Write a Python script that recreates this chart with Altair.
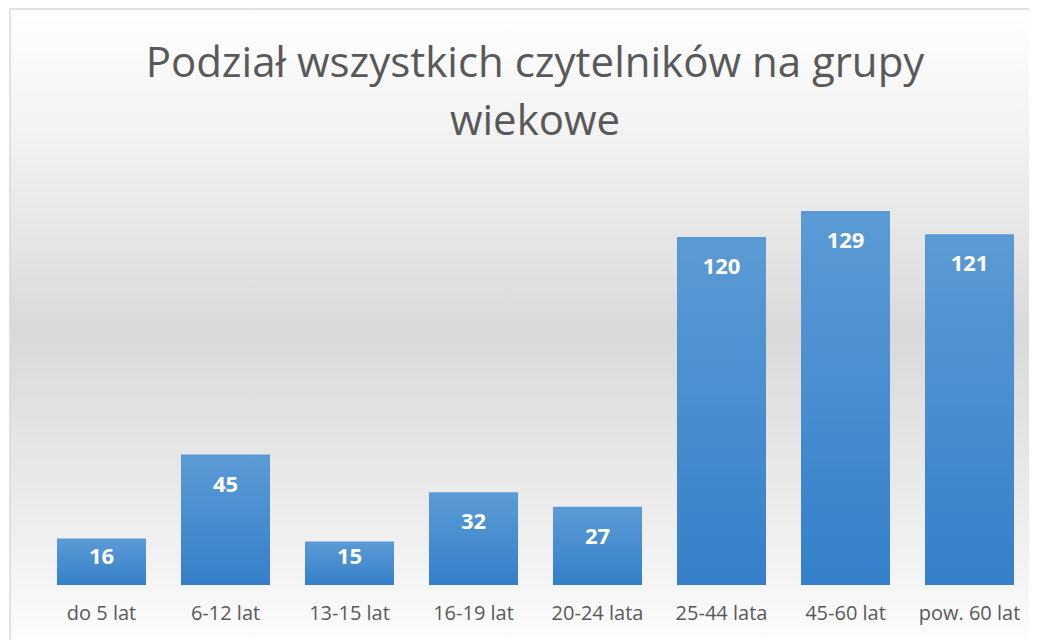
import altair as alt
import pandas as pd

categories = ["do 5 lat", "6-12 lat", "13-15 lat", "16-19 lat", "20-24 lata", "25-44 lata", "45-60 lat", "pow. 60 lat"]
values = [16, 45, 15, 32, 27, 120, 129, 121]
title_lines = "Podział wszystkich czytelników na grupy\nwiekowe"

df = pd.DataFrame({"cat": categories, "val": values})

W, H = 1021, 577

bg = alt.Chart(pd.DataFrame({"a": [0]})).mark_rect(
    fill=alt.Gradient(
        gradient="linear", x1=0, x2=0, y1=0, y2=1,
        stops=[
            alt.GradientStop(color="#ffffff", offset=0),
            alt.GradientStop(color="#f2f2f2", offset=0.2),
            alt.GradientStop(color="#d9d9d9", offset=0.5),
            alt.GradientStop(color="#f2f2f2", offset=0.85),
            alt.GradientStop(color="#ffffff", offset=1),
        ],
    ),
    stroke="#d9d9d9", strokeWidth=1.5,
).encode(x=alt.value(2), x2=alt.value(1045), y=alt.value(1), y2=alt.value(650))

title = alt.Chart(pd.DataFrame({"a": [0]})).mark_text(
    text=title_lines, lineBreak="\n", font="Open Sans", fontSize=42,
    color="#595959", align="center", baseline="alphabetic", lineHeight=58,
).encode(x=alt.value(527), y=alt.value(69))

xs = alt.X("cat:N", sort=categories,
           scale=alt.Scale(range=[31.5, 1023.5], paddingInner=0.282, paddingOuter=0.141),
           axis=alt.Axis(title=None, labelAngle=0, labelFontSize=20, labelColor="#595959",
                         labelFont="Open Sans", domain=False, ticks=False, labelPadding=18,
                         zindex=1))
ys = alt.Y("val:Q", scale=alt.Scale(domain=[0, 140], range=[H, H - 140 * 374 / 129]), axis=None)

bars = alt.Chart(df).mark_bar(
    fill=alt.Gradient(
        gradient="linear", x1=0, x2=0, y1=0, y2=1,
        stops=[alt.GradientStop(color="#5b9bd5", offset=0),
               alt.GradientStop(color="#3580c9", offset=1)],
    )
).encode(x=xs, y=ys)

labels = alt.Chart(df).transform_calculate(
    lp="max(datum.val - 10.4, 9.7)"
).mark_text(
    color="white", fontSize=22, fontWeight="bold", font="Open Sans", baseline="middle"
).encode(x=alt.X("cat:N", sort=categories), y=alt.Y("lp:Q"), text="val:Q")

chart = alt.layer(bg, title, bars, labels).properties(
    width=W, height=H,
    autosize=alt.AutoSizeParams(type="none"),
    padding={"left": 0, "top": 0, "right": 0, "bottom": 55},
).configure_view(stroke=None)

chart.save("out.html", embed_options={"renderer": "svg", "actions": False})
